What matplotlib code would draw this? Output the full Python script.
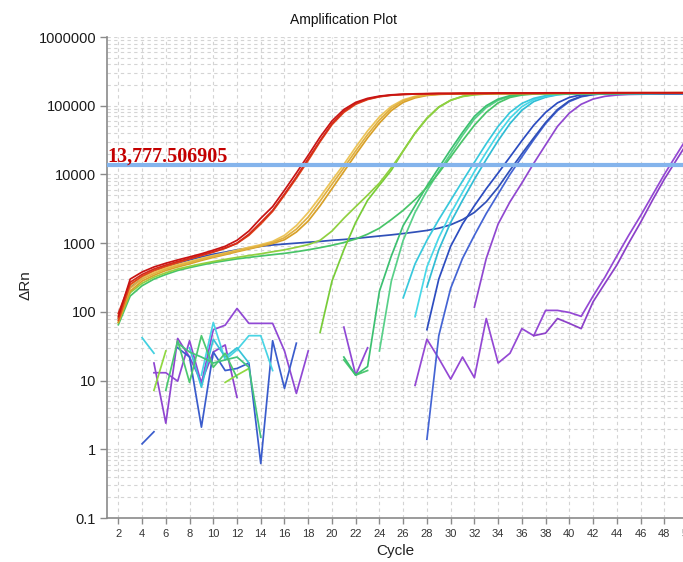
import numpy as np
import matplotlib
matplotlib.use("Agg")
import matplotlib.pyplot as plt
from matplotlib.ticker import FixedLocator, NullFormatter

plt.rcParams['font.family'] = ['Liberation Sans', 'DejaVu Sans']

# ---- axis labels / ticks ----
title = "Amplification Plot"
x_label = "Cycle"
y_label = "ΔRn"
x_ticks = [2, 4, 6, 8, 10, 12, 14, 16, 18, 20, 22, 24, 26, 28, 30,
           32, 34, 36, 38, 40, 42, 44, 46, 48, 50]
y_ticks = [0.1, 1, 10, 100, 1000, 10000, 100000, 1000000]
y_tick_labels = ["0.1", "1", "10", "100", "1000", "10000", "100000", "1000000"]
threshold = 13777.506905
threshold_label = "13,777.506905"

# ---- amplification curves: first cycle + ΔRn per cycle ----
red_1_start = 2
red_1 = [85, 300, 380, 450, 510, 570, 630, 700, 790, 900,
         1100, 1500, 2300, 3400, 5900, 10500, 19000, 35000, 60000, 88000,
         112000, 128000, 138000, 144000, 147000, 149000, 150000, 151000, 151000, 152000,
         152000, 152000, 153000, 153000, 153000, 153000, 154000, 154000, 154000, 154000,
         154000, 155000, 155000, 155000, 155000, 155000, 155000, 155000, 155000]
red_2_start = 2
red_2 = [95, 270, 350, 420, 480, 540, 600, 670, 750, 850,
         1000, 1350, 2000, 3000, 5200, 9200, 17000, 31000, 55000, 83000,
         108000, 125000, 136000, 143000, 146000, 148000, 149000, 150000, 150000, 151000,
         151000, 151000, 152000, 152000, 152000, 152000, 152000, 153000, 153000, 153000,
         153000, 153000, 153000, 153000, 154000, 154000, 154000, 154000, 154000]
red_3_start = 2
red_3 = [75, 250, 330, 400, 460, 520, 590, 660, 740, 840,
         990, 1300, 1900, 2900, 5000, 8800, 16000, 30000, 53000, 80000,
         105000, 123000, 135000, 142000, 146000, 148000, 149000, 150000, 150000, 150000,
         150000, 151000, 151000, 151000, 151000, 151000, 152000, 152000, 152000, 152000,
         152000, 152000, 152000, 152000, 153000, 153000, 153000, 153000, 153000]

yellow_1_start = 2
yellow_1 = [80, 220, 300, 360, 420, 470, 520, 580, 640, 700,
            770, 840, 920, 1020, 1200, 1600, 2400, 4100, 7200, 12500,
            22000, 38000, 62000, 92000, 118000, 134000, 143000, 147000, 149000, 150000,
            150000, 151000, 151000, 151000, 152000, 152000, 152000, 152000, 153000, 153000,
            153000, 153000, 153000, 154000, 154000, 154000, 154000, 154000, 154000]
yellow_2_start = 2
yellow_2 = [70, 200, 280, 340, 400, 450, 500, 560, 620, 680,
            750, 820, 900, 990, 1120, 1450, 2100, 3500, 6200, 11000,
            19500, 34000, 56000, 85000, 112000, 130000, 141000, 146000, 148000, 149000,
            150000, 150000, 151000, 151000, 151000, 151000, 152000, 152000, 152000, 152000,
            152000, 153000, 153000, 153000, 153000, 153000, 153000, 153000, 153000]
yellow_3_start = 2
yellow_3 = [90, 240, 320, 380, 440, 490, 540, 600, 660, 720,
            790, 870, 950, 1060, 1300, 1800, 2800, 4700, 8200, 14000,
            25000, 43000, 69000, 98000, 122000, 137000, 145000, 148000, 150000, 150000,
            151000, 151000, 151000, 152000, 152000, 152000, 152000, 153000, 153000, 153000,
            153000, 153000, 154000, 154000, 154000, 154000, 154000, 155000, 155000]

lime_1_start = 2
lime_1 = [70, 190, 260, 320, 370, 420, 460, 500, 540, 580,
          620, 660, 700, 750, 800, 870, 950, 1100, 1500, 2300,
          3400, 5000, 7500, 12500, 22000, 40000, 66000, 96000, 120000, 136000,
          144000, 148000, 150000, 150000, 151000, 151000, 151000, 151000, 152000, 152000,
          152000, 152000, 152000, 152000, 152000, 153000, 153000, 153000, 153000]
lime_2_start = 19
lime_2 = [50, 280, 800, 2000, 4200, 7000, 11500, 22000, 40000, 65000,
          95000, 120000, 137000, 146000, 150000, 150000, 151000, 151000, 151000, 151000,
          152000, 152000, 152000, 152000, 152000, 152000, 153000, 153000, 153000, 153000,
          153000, 153000]

green_1_start = 2
green_1 = [65, 170, 240, 300, 350, 400, 440, 480, 520, 555,
           590, 620, 650, 680, 710, 750, 800, 860, 930, 1020,
           1150, 1350, 1650, 2200, 3000, 4300, 6500, 10500, 18000, 31000,
           52000, 80000, 110000, 132000, 143000, 148000, 150000, 150000, 151000, 151000,
           151000, 151000, 152000, 152000, 152000, 152000, 152000, 152000, 152000]
green_2_start = 21
green_2 = [22, 12, 16, 200, 650, 1800, 3500, 6800, 12500, 23000,
           41000, 70000, 100000, 125000, 140000, 147000, 150000, 150000, 150000, 151000,
           151000, 151000, 151000, 151000, 152000, 152000, 152000, 152000, 152000, 152000]
green_3_start = 24
green_3 = [27, 280, 1100, 2800, 5800, 11000, 20000, 37000, 64000, 94000,
           120000, 137000, 146000, 150000, 150000, 151000, 151000, 151000, 151000, 152000,
           152000, 152000, 152000, 152000, 152000, 153000, 153000]

cyan_1_start = 26
cyan_1 = [160, 500, 1100, 2200, 4200, 8000, 15000, 28000, 50000, 80000,
          108000, 128000, 140000, 147000, 150000, 150000, 151000, 151000, 151000, 151000,
          152000, 152000, 152000, 152000, 152000]
cyan_2_start = 27
cyan_2 = [85, 450, 1200, 2700, 5500, 11000, 21000, 39000, 66000, 97000,
          122000, 137000, 146000, 150000, 150000, 150000, 151000, 151000, 151000, 151000,
          151000, 152000, 152000, 152000]
cyan_3_start = 28
cyan_3 = [230, 800, 2000, 4200, 8500, 16500, 31000, 55000, 86000, 115000,
          133000, 144000, 149000, 150000, 150000, 151000, 151000, 151000, 151000, 152000,
          152000, 152000, 152000]

blue_1_start = 2
blue_1 = [80, 230, 320, 390, 450, 510, 570, 630, 690, 740,
          800, 850, 900, 940, 970, 1000, 1030, 1060, 1100, 1130,
          1170, 1220, 1270, 1320, 1380, 1450, 1530, 1650, 1850, 2200,
          2800, 4000, 6500, 11500, 20000, 34000, 57000, 88000, 118000, 137000,
          146000, 150000, 150000, 151000, 151000, 151000, 151000, 151000, 152000]
blue_2_start = 28
blue_2 = [55, 300, 900, 1900, 3500, 6200, 10500, 18000, 31000, 52000,
          80000, 110000, 132000, 144000, 150000, 150000, 150000, 151000, 151000, 151000,
          151000, 151000, 151000]
blue_3_start = 28
blue_3 = [1.4, 45, 220, 600, 1300, 2700, 5200, 10000, 18000, 32000,
          55000, 85000, 115000, 135000, 145000, 150000, 150000, 150000, 150000, 151000,
          151000, 151000, 151000]

purple_1_start = 32
purple_1 = [117, 600, 1900, 4000, 7500, 14500, 27000, 50000, 78000, 105000,
            125000, 137000, 143000, 146000, 147000, 148000, 148000, 148000, 148000]
purple_2_start = 27
purple_2 = [8.5, 40, 21, 10.5, 22, 11, 80, 18, 25, 57,
            45, 105, 105, 98, 86, 170, 320, 650, 1300, 2500,
            5000, 10000, 19000, 36000]
purple_3_start = 37
purple_3 = [45, 49, 80, 68, 57, 140, 260, 480, 1000, 2000,
            4200, 8500, 16000, 30000]

# ---- low-level traces of the non-amplifying wells ----
noise_purple_1_start = 5
noise_purple_1 = [18, 2.4, 41, 22, 9.5, 26, 33, 5.7]
noise_purple_2_start = 5
noise_purple_2 = [13, 13, 9.8, 38, 9, 55, 64, 112, 68, 68, 68, 27, 6.5, 27]
noise_purple_3_start = 21
noise_purple_3 = [60, 12, 30]
noise_blue_1_start = 4
noise_blue_1 = [1.2, 1.8]
noise_blue_2_start = 7
noise_blue_2 = [30, 22, 2.1, 26, 14, 15, 18, 0.62, 38, 7.7, 35]
noise_cyan_1_start = 4
noise_cyan_1 = [42, 25]
noise_cyan_2_start = 9
noise_cyan_2 = [12, 70, 20, 28, 45, 45, 14]
noise_cyan_3_start = 8
noise_cyan_3 = [30, 8, 40, 22, 30, 18]
noise_lime_1_start = 5
noise_lime_1 = [7.2, 27]
noise_lime_2_start = 11
noise_lime_2 = [9.4, 12, 15]
noise_green_1_start = 6
noise_green_1 = [7.2, 38, 9.4, 45, 15.6, 25, 11]
noise_green_2_start = 7
noise_green_2 = [35, 26, 22, 18, 20, 22, 15.6, 1.5]
noise_green_3_start = 21
noise_green_3 = [20, 12, 14]

# drawing order: low traces first, earliest-rising wells last (on top)
series = [
    (noise_purple_1_start, noise_purple_1, '#8f45d0'),
    (noise_purple_2_start, noise_purple_2, '#9048d4'),
    (noise_purple_3_start, noise_purple_3, '#9048d4'),
    (noise_blue_1_start, noise_blue_1, '#3a5ccc'),
    (noise_blue_2_start, noise_blue_2, '#3a5ccc'),
    (noise_cyan_1_start, noise_cyan_1, '#40d0e0'),
    (noise_cyan_2_start, noise_cyan_2, '#48d4e4'),
    (noise_cyan_3_start, noise_cyan_3, '#38c4d8'),
    (noise_lime_1_start, noise_lime_1, '#90d840'),
    (noise_lime_2_start, noise_lime_2, '#90d840'),
    (noise_green_1_start, noise_green_1, '#4cc870'),
    (noise_green_2_start, noise_green_2, '#44c47c'),
    (noise_green_3_start, noise_green_3, '#4cc870'),
    (purple_2_start, purple_2, '#9448d4'),
    (purple_3_start, purple_3, '#8c40c8'),
    (purple_1_start, purple_1, '#9048d0'),
    (blue_3_start, blue_3, '#4464d4'),
    (blue_2_start, blue_2, '#2c4cc0'),
    (blue_1_start, blue_1, '#3050b8'),
    (cyan_3_start, cyan_3, '#30bcd4'),
    (cyan_2_start, cyan_2, '#48d8e8'),
    (cyan_1_start, cyan_1, '#38c8dc'),
    (green_3_start, green_3, '#58d088'),
    (green_2_start, green_2, '#3cc070'),
    (green_1_start, green_1, '#48c468'),
    (lime_2_start, lime_2, '#78cc38'),
    (lime_1_start, lime_1, '#90d040'),
    (yellow_3_start, yellow_3, '#ecc458'),
    (yellow_2_start, yellow_2, '#d8a028'),
    (yellow_1_start, yellow_1, '#e0b040'),
    (red_3_start, red_3, '#e04818'),
    (red_2_start, red_2, '#d42a1a'),
    (red_1_start, red_1, '#c81414'),
]

fig = plt.figure(figsize=(6.83, 5.62), dpi=100)
fig.patch.set_facecolor('white')

W, H = 683.0, 562.0
left_px, right_px = 107.3, 699.9   # x = 1.07 ... 51
top_px, bottom_px = 37.0, 518.0
ax = fig.add_axes([left_px / W, 1 - bottom_px / H,
                   (right_px - left_px) / W, (bottom_px - top_px) / H])

for start, vals, color in series:
    x = np.arange(start, start + len(vals))
    ax.plot(x, vals, color=color, lw=1.25, solid_joinstyle='round', zorder=2)

ax.axhline(threshold, color='#84b4ec', lw=3.0, zorder=4)
ax.annotate(threshold_label, xy=(1.1, threshold), xytext=(0, 2.5),
            textcoords='offset points', ha='left', va='baseline',
            color='#c40000', fontsize=14.5, fontweight='bold',
            family=['Liberation Serif', 'DejaVu Serif'], zorder=5)

ax.set_yscale('log')
ax.set_xlim(1.07, 51)
ax.set_ylim(0.1, 1000000)

ax.xaxis.set_major_locator(FixedLocator(x_ticks))
ax.set_xticklabels([str(t) for t in x_ticks])
ax.yaxis.set_major_locator(FixedLocator(y_ticks))
ax.set_yticklabels(y_tick_labels)
minor_y = [m * d for d in y_ticks[:-1] for m in (2, 3, 4, 5, 6, 7, 8, 9)]
ax.yaxis.set_minor_locator(FixedLocator(minor_y))
ax.yaxis.set_minor_formatter(NullFormatter())
ax.xaxis.set_minor_locator(FixedLocator([]))

grid_kw = dict(color='#d4d4d4', lw=0.8, linestyle=(0, (3, 3)))
ax.grid(True, which='major', axis='x', **grid_kw)
ax.grid(True, which='both', axis='y', **grid_kw)
ax.set_axisbelow(True)

for side in ('top', 'right'):
    ax.spines[side].set_visible(False)
for side in ('left', 'bottom'):
    ax.spines[side].set_color('#8a8a8a')
    ax.spines[side].set_linewidth(1.2)

ax.tick_params(axis='y', which='major', length=5, width=1, color='#8a8a8a',
               labelsize=10.5, labelcolor='#1a1a1a', pad=3)
ax.tick_params(axis='y', which='minor', length=0)
ax.tick_params(axis='x', which='major', length=4, width=1, color='#8a8a8a',
               labelsize=8, labelcolor='#333333', pad=4)

fig.text(344 / W, 1 - 20 / H, title, ha='center', va='center', fontsize=10,
         color='#111111')
fig.text(395 / W, 1 - 551 / H, x_label, ha='center', va='center', fontsize=11,
         color='#222222')
fig.text(25 / W, 1 - 285 / H, y_label, ha='center', va='center', fontsize=11,
         rotation=90, color='#222222')

fig.savefig('out.png', dpi=100, facecolor='white')
